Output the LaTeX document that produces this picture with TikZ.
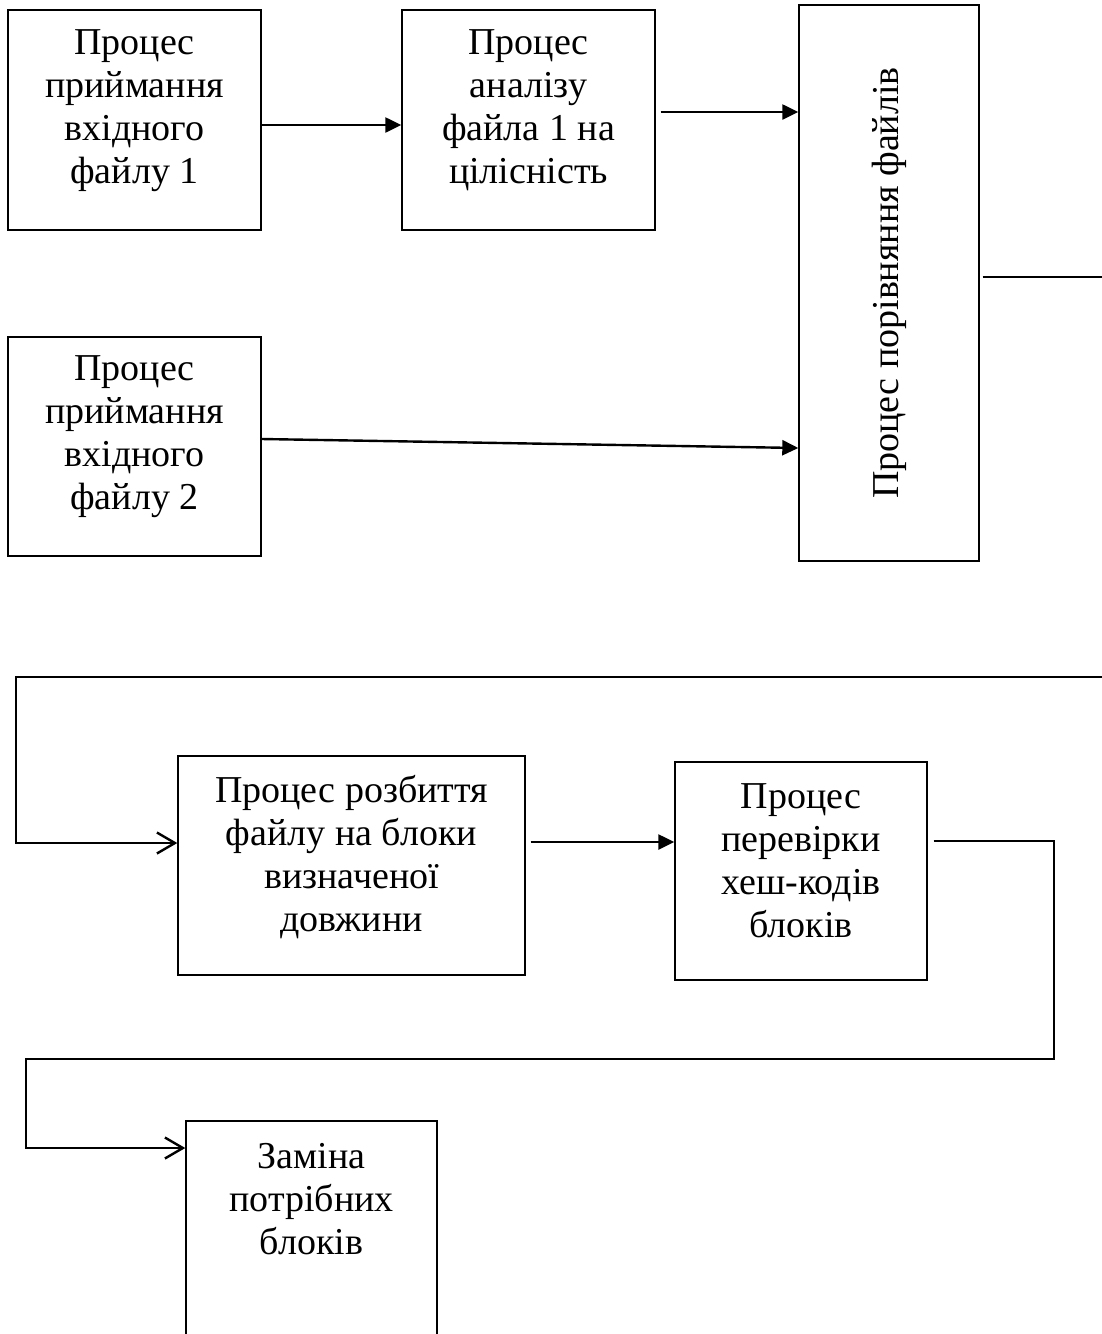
\documentclass[tikz,border=0pt]{standalone}
\usepackage{fontspec}
\setmainfont{Liberation Serif}
\usepackage{tikz}
\usetikzlibrary{positioning,arrows.meta,calc}

\begin{document}
\begin{tikzpicture}[x=0.5pt,y=-0.5pt,
        box/.style={draw,line width=0.7pt,align=center,inner sep=0pt,
            font=\fontsize{19}{21.5}\selectfont},
        flow/.style={line width=1.2pt,-{Triangle[length=8pt,width=7.5pt]}},
        turn/.style={line width=1.2pt,-{Straight Barb[length=9pt,width=10.5pt,line width=1.2pt]}},
        wire/.style={line width=1.2pt}]
    \useasboundingbox (0,0) rectangle (1102,1334);
    \clip (0,0) rectangle (1102,1334);
    % upper part
    \node[box,minimum width=126.5pt,minimum height=110pt] (in1) at (134.5,120)
        {Процес\\приймання\\вхідного\\файлу 1\\[-8pt]\mbox{}};
    \node[box,minimum width=126.5pt,minimum height=110pt] (check1) at (528.5,120)
        {Процес\\аналізу\\файла 1 на\\цілісність\\[-8pt]\mbox{}};
    \node[box,minimum width=126.5pt,minimum height=109.5pt] (in2) at (134.5,446.5)
        {Процес\\приймання\\вхідного\\файлу 2\\[-8pt]\mbox{}};
    \node[box,minimum width=90pt,minimum height=278pt] (cmp) at (889,283)
        {\rotatebox{90}{Процес порівняння файлів}};
    \draw[flow] ([shift={(0,5)}]in1.east) -- ([shift={(0,5)}]check1.west);
    \coordinate (p1) at ([shift={(5,-8)}]check1.east);
    \draw[flow] (p1) -- (p1 -| cmp.west);
    \draw[flow] ([shift={(0,-7.5)}]in2.east) -- ([shift={(0,165)}]cmp.west);
    \draw[wire] ([shift={(3,-6)}]cmp.east) -- ++(130,0);
    % lower part
    \node[box,minimum width=173.5pt,minimum height=109.5pt] (split) at (351.5,865.5)
        {Процес розбиття\\файлу на блоки\\визначеної\\довжини\\[-9.5pt]\mbox{}};
    \node[box,minimum width=126pt,minimum height=109pt] (hash) at (801,871)
        {Процес\\перевірки\\хеш-кодів\\блоків\\[-11pt]\mbox{}};
    \node[box,minimum width=125.5pt,minimum height=110pt] (swap) at (311.5,1231)
        {Заміна\\потрібних\\блоків\\[11pt]\mbox{}};
    \coordinate (back) at (1110,677);
    \coordinate (bend1) at (16,677);
    \draw[turn] (back) -- (bend1) |- ([shift={(0,-22.5)}]split.west);
    \coordinate (p2) at ([shift={(5,-23.5)}]split.east);
    \draw[flow] (p2) -- (p2 -| hash.west);
    \coordinate (p3) at ([shift={(6,-30)}]hash.east);
    \draw[turn] (p3) -- ++(120,0) -- ++(0,218) -- ++(-1028,0)
        |- ([shift={(0,-83)}]swap.west);
\end{tikzpicture}
\end{document}
